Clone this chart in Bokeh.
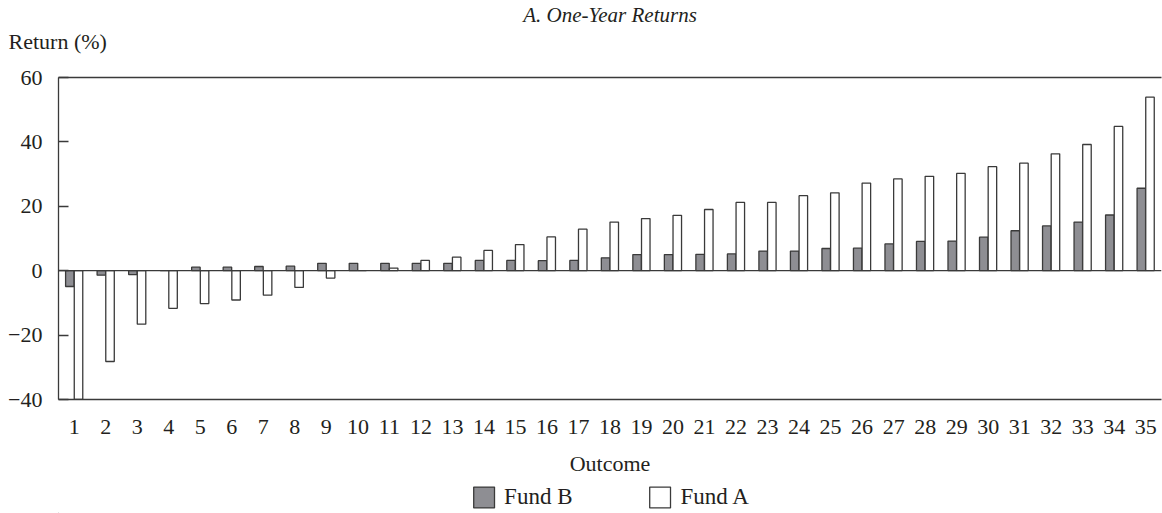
from bokeh.plotting import figure
from bokeh.layouts import column
from bokeh.models import (ColumnDataSource, FactorRange, FixedTicker, Span, Title,
                          Legend, LegendItem, LinearAxis)
from bokeh.transform import dodge
from bokeh.embed import file_html
from bokeh.resources import INLINE

# ---- data ----
outcomes = ["1", "2", "3", "4", "5", "6", "7", "8", "9", "10", "11", "12", "13", "14", "15",
            "16", "17", "18", "19", "20", "21", "22", "23", "24", "25", "26", "27", "28",
            "29", "30", "31", "32", "33", "34", "35"]
fund_b = [-4.9, -1.4, -1.2, 0, 1.1, 1.1, 1.3, 1.4, 2.3, 2.3, 2.3, 2.3, 2.3, 3.2, 3.2, 3.1,
          3.2, 4.0, 5.0, 5.0, 5.1, 5.2, 6.1, 6.1, 6.9, 7.0, 8.3, 9.1, 9.2, 10.4, 12.4, 13.9,
          15.1, 17.3, 25.6]
fund_a = [-40, -28.2, -16.6, -11.7, -10.2, -9.1, -7.6, -5.2, -2.3, 0, 0.8, 3.2, 4.2, 6.3,
          8.1, 10.5, 12.9, 15.1, 16.2, 17.2, 19.0, 21.2, 21.2, 23.3, 24.2, 27.2, 28.5, 29.3,
          30.2, 32.3, 33.4, 36.3, 39.2, 44.8, 53.9]
y_ticks = [-40, -20, 0, 20, 40, 60]
series_names = ["Fund B", "Fund A"]

FONT = "Liberation Serif"
TXT = "#231f20"
LINE = "#3a3a3a"
GREY = "#8e8e93"
FS = "22px"

src = ColumnDataSource(dict(outcome=outcomes, fund_b=fund_b, fund_a=fund_a))

p = figure(x_range=FactorRange(factors=outcomes, range_padding=0),
           y_range=(-40, 60),
           frame_width=1103, frame_height=322,
           min_border_left=58, min_border_right=1, min_border_top=0, min_border_bottom=82,
           output_backend="svg", toolbar_location=None)
p.title = None
p.outline_line_color = None
p.xgrid.visible = False
p.ygrid.visible = False
p.background_fill_color = "white"
p.border_fill_color = "white"

p.vbar(x=dodge("outcome", -0.14, range=p.x_range), top="fund_b", bottom=0, width=0.27,
       source=src, fill_color=GREY, line_color=LINE, line_width=1.3)
p.vbar(x=dodge("outcome", 0.135, range=p.x_range), top="fund_a", bottom=0, width=0.27,
       source=src, fill_color="white", line_color=LINE, line_width=1.3)

p.add_layout(Span(location=0, dimension="width", line_color=LINE, line_width=1.3))

# y axis
ya = p.yaxis[0]
ya.ticker = FixedTicker(ticks=y_ticks)
ya.minor_tick_line_color = None
ya.major_tick_in = 10
ya.major_tick_out = 0
ya.major_label_standoff = 16
ya.major_label_overrides = {-40: "\u221240", -20: "\u221220"}
ya.axis_line_color = LINE
ya.axis_line_width = 1.3
ya.major_tick_line_color = LINE
ya.major_tick_line_width = 1.3
ya.major_label_text_font = FONT
ya.major_label_text_font_size = FS
ya.major_label_text_color = TXT

# x axis
xa = p.xaxis[0]
xa.major_tick_in = 0
xa.major_tick_out = 0
xa.major_tick_line_color = None
xa.major_label_standoff = 20
xa.axis_line_color = LINE
xa.axis_line_width = 1.3
xa.major_label_text_font = FONT
xa.major_label_text_font_size = FS
xa.major_label_text_color = TXT
xa.axis_label = "Outcome"
xa.axis_label_standoff = 14
xa.axis_label_text_font = FONT
xa.axis_label_text_font_size = FS
xa.axis_label_text_font_style = "normal"
xa.axis_label_text_color = TXT

# top frame line
top = LinearAxis(ticker=FixedTicker(ticks=[]), axis_line_color=LINE, axis_line_width=1.3,
                 major_tick_line_color=None, minor_tick_line_color=None,
                 major_tick_out=0, major_tick_in=0,
                 major_label_text_font_size="0px")
p.add_layout(top, "above")

# texts above the frame (stacked outward from the frame); first one is a blank spacer
p.add_layout(Title(text=" ", standoff=0, text_font=FONT, text_font_size="20px"), "above")
p.add_layout(Title(text="Return (%)", align="left", offset=-50, standoff=0,
                   text_font=FONT, text_font_size=FS, text_font_style="normal",
                   text_color=TXT), "above")
p.add_layout(Title(text="A. One-Year Returns", align="center", standoff=0,
                   text_font=FONT, text_font_size="21px", text_font_style="italic",
                   text_color=TXT), "above")

# legend strip below the chart (swatch renderers sit outside the strip's visible range)
q = figure(width=1162, height=32, x_range=(0, 1), y_range=(0, 1),
           min_border_left=58, min_border_right=1, min_border_top=0, min_border_bottom=0,
           output_backend="svg", toolbar_location=None)
q.title = None
q.axis.visible = False
q.grid.visible = False
q.outline_line_color = None
swatch = ColumnDataSource(dict(x=[-5], top=[-5]))
lb = q.vbar(x="x", top="top", bottom="top", width=0.1, source=swatch,
            fill_color=GREY, line_color=LINE, line_width=1.3)
la = q.vbar(x="x", top="top", bottom="top", width=0.1, source=swatch,
            fill_color="white", line_color=LINE, line_width=1.3)
legend = Legend(items=[LegendItem(label=series_names[0], renderers=[lb]),
                       LegendItem(label=series_names[1], renderers=[la])],
                orientation="horizontal", location="center",
                glyph_width=26, glyph_height=26, label_standoff=8, spacing=74,
                label_height=20, label_text_font=FONT, label_text_font_size="23px",
                label_text_color=TXT, border_line_color=None, background_fill_alpha=0,
                padding=0, margin=0)
q.add_layout(legend)

open("out.html", "w").write(file_html(column(p, q, spacing=0), INLINE))
